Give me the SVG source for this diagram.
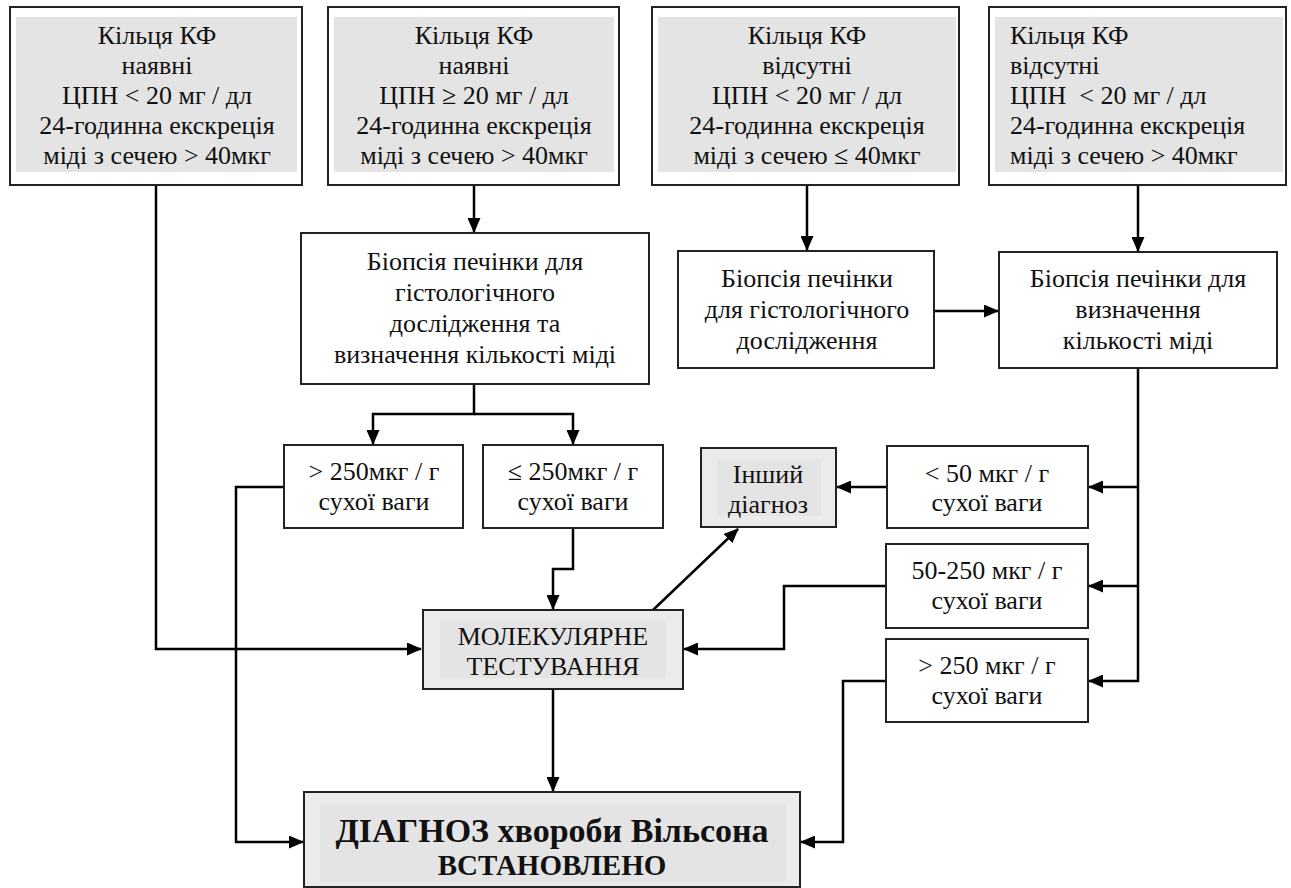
<svg xmlns="http://www.w3.org/2000/svg" width="1291" height="888" viewBox="0 0 1291 888">
<style>
.box{fill:#fff;stroke:#222;stroke-width:2}
.gbox{fill:#ebebeb;stroke:#222;stroke-width:2}
.inner{fill:#e4e4e4;stroke:none}
.t{font-family:"Liberation Serif","DejaVu Serif",serif;font-size:26px;fill:#111;text-anchor:middle}
.tl{text-anchor:start}
.b1{font-weight:bold;font-size:34px}
.b2{font-weight:bold;font-size:29px}
.c{fill:none;stroke:#000;stroke-width:2.5}
.ca{fill:none;stroke:#000;stroke-width:2.5;marker-end:url(#arr)}
</style>
<defs>
<marker id="arr" viewBox="0 0 15 13" refX="14" refY="6.5" markerWidth="15" markerHeight="13" markerUnits="userSpaceOnUse" orient="auto">
<path d="M0,0 L15,6.5 L0,13 z" fill="#000"/>
</marker>
</defs>
<rect width="1291" height="888" fill="#fff"/>

<g id="connectors">
<path class="ca" d="M156,185 V649 H421"/>
<path class="ca" d="M474,185 V232"/>
<path class="ca" d="M807,185 V250"/>
<path class="ca" d="M1138,185 V251"/>
<path class="ca" d="M474,384 V414 H373 V444"/>
<path class="ca" d="M474,414 H573 V444"/>
<path class="ca" d="M934,311 H998"/>
<path class="ca" d="M1138,368 V681 H1089"/>
<path class="ca" d="M1138,487 H1089"/>
<path class="ca" d="M1138,586 H1089"/>
<path class="ca" d="M887,487 H837"/>
<path class="ca" d="M886,586 H784 V649 H684"/>
<path class="ca" d="M886,681 H843 V842 H801"/>
<path class="ca" d="M284,487 H236 V842 H303"/>
<path class="ca" d="M573,528 V569 H553 V609"/>
<path class="ca" d="M553,689 V791"/>
<path class="ca" d="M653,610 L738,529"/>
</g>

<g id="n1">
<rect class="box" x="10" y="7" width="292" height="178"/>
<rect class="inner" x="16" y="17" width="281" height="155"/>
<text class="t" x="157" y="44">Кільця КФ</text>
<text class="t" x="157" y="74">наявні</text>
<text class="t" x="157" y="104">ЦПН &lt; 20 мг / дл</text>
<text class="t" x="157" y="134">24-годинна екскреція</text>
<text class="t" x="157" y="164">міді з сечею &gt; 40мкг</text>
</g>

<g id="n2">
<rect class="box" x="328" y="7" width="291" height="178"/>
<rect class="inner" x="334" y="17" width="280" height="155"/>
<text class="t" x="474" y="44">Кільця КФ</text>
<text class="t" x="474" y="74">наявні</text>
<text class="t" x="474" y="104">ЦПН ≥ 20 мг / дл</text>
<text class="t" x="474" y="134">24-годинна екскреція</text>
<text class="t" x="474" y="164">міді з сечею &gt; 40мкг</text>
</g>

<g id="n3">
<rect class="box" x="652" y="7" width="307" height="178"/>
<rect class="inner" x="658" y="17" width="298" height="155"/>
<text class="t" x="807" y="44">Кільця КФ</text>
<text class="t" x="807" y="74">відсутні</text>
<text class="t" x="807" y="104">ЦПН &lt; 20 мг / дл</text>
<text class="t" x="807" y="134">24-годинна екскреція</text>
<text class="t" x="807" y="164">міді з сечею ≤ 40мкг</text>
</g>

<g id="n4">
<rect class="box" x="989" y="7" width="297" height="178"/>
<rect class="inner" x="995" y="17" width="288" height="155"/>
<text class="t tl" x="1010" y="44">Кільця КФ</text>
<text class="t tl" x="1010" y="74">відсутні</text>
<text class="t tl" x="1010" y="104" xml:space="preserve">ЦПН  &lt; 20 мг / дл</text>
<text class="t tl" x="1010" y="134">24-годинна екскреція</text>
<text class="t tl" x="1010" y="164">міді з сечею &gt; 40мкг</text>
</g>

<g id="biopsyA">
<rect class="box" x="301" y="233" width="348" height="151"/>
<text class="t" x="475" y="270">Біопсія печінки для</text>
<text class="t" x="475" y="301">гістологічного</text>
<text class="t" x="475" y="332">дослідження та</text>
<text class="t" x="475" y="363">визначення кількості міді</text>
</g>

<g id="biopsyB">
<rect class="box" x="678" y="251" width="256" height="117"/>
<text class="t" x="807" y="287">Біопсія печінки</text>
<text class="t" x="807" y="318">для гістологічного</text>
<text class="t" x="807" y="349">дослідження</text>
</g>

<g id="biopsyC">
<rect class="box" x="999" y="252" width="278" height="116"/>
<text class="t" x="1138" y="287">Біопсія печінки для</text>
<text class="t" x="1138" y="318">визначення</text>
<text class="t" x="1138" y="349">кількості міді</text>
</g>

<g id="gt250">
<rect class="box" x="284" y="445" width="179" height="83"/>
<text class="t" x="374" y="480">&gt; 250мкг / г</text>
<text class="t" x="374" y="510">сухої ваги</text>
</g>

<g id="le250">
<rect class="box" x="483" y="445" width="180" height="83"/>
<text class="t" x="573" y="480">≤ 250мкг / г</text>
<text class="t" x="573" y="510">сухої ваги</text>
</g>

<g id="other">
<rect class="gbox" x="701" y="448" width="135" height="79"/>
<rect class="inner" x="717" y="459" width="104" height="57"/>
<text class="t" x="768" y="483">Інший</text>
<text class="t" x="768" y="513">діагноз</text>
</g>

<g id="lt50">
<rect class="box" x="887" y="446" width="201" height="82"/>
<text class="t" x="987" y="482">&lt; 50 мкг / г</text>
<text class="t" x="987" y="511">сухої ваги</text>
</g>

<g id="mid50250">
<rect class="box" x="886" y="544" width="202" height="84"/>
<text class="t" x="987" y="579">50-250 мкг / г</text>
<text class="t" x="987" y="609">сухої ваги</text>
</g>

<g id="gt250b">
<rect class="box" x="886" y="639" width="202" height="83"/>
<text class="t" x="987" y="674">&gt; 250 мкг / г</text>
<text class="t" x="987" y="704">сухої ваги</text>
</g>

<g id="molecular">
<rect class="gbox" x="423" y="610" width="260" height="79"/>
<rect class="inner" x="440" y="621" width="226" height="57"/>
<text class="t" x="553" y="645">МОЛЕКУЛЯРНЕ</text>
<text class="t" x="553" y="675">ТЕСТУВАННЯ</text>
</g>

<g id="final">
<rect class="gbox" x="304" y="792" width="496" height="95"/>
<rect class="inner" x="320" y="803" width="466" height="79"/>
<text class="t b1" x="552" y="842">ДІАГНОЗ хвороби Вільсона</text>
<text class="t b2" x="552" y="875">ВСТАНОВЛЕНО</text>
</g>
</svg>
